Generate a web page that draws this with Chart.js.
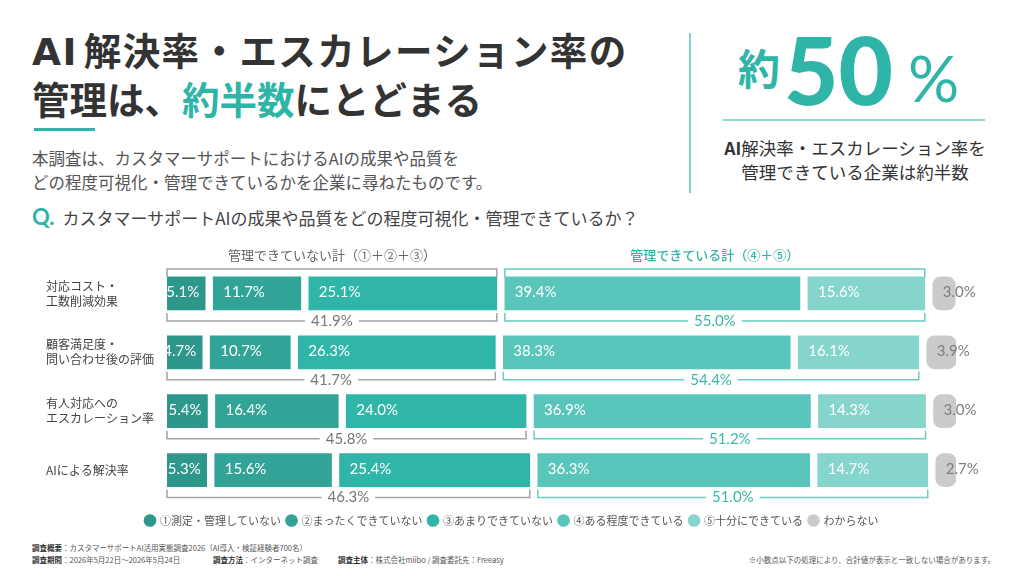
<!DOCTYPE html>
<html lang="ja">
<head>
<meta charset="utf-8">
<script src="https://cdn.jsdelivr.net/npm/chart.js@4.4.1/dist/chart.umd.min.js"></script>
<style>
  body { margin:0; width:1024px; height:576px; position:relative; overflow:hidden; background:#fff;
         font-family:"Noto Sans CJK JP","Noto Sans",sans-serif; color:#333; }
  .abs { position:absolute; white-space:nowrap; }
  #title { left:32px; top:26px; font-size:37.5px; line-height:45px; font-weight:700; color:#333; }
  #title em { font-style:normal; color:#2fb5a8; }
  #title .ai { font-family:"DejaVu Sans",sans-serif; margin-right:6px; }
  #title .l1 { letter-spacing:1.4px; }
  #rule { left:34px; top:128px; width:61px; height:3px; background:#2fb5a8; }
  #lead { left:32px; top:146px; font-size:16.5px; line-height:24px; color:#555; }
  #vline { left:689px; top:33px; width:2px; height:160px; background:#7fd3ca; }
  #yaku { left:738px; top:42px; font-size:42px; line-height:50px; font-weight:700; color:#2fb5a8; }
  #big { left:784px; top:14px; font-family:Lato,"Noto Sans",sans-serif; font-size:94px; line-height:110px; font-weight:900; color:#2fb5a8; }
  #pct { left:908px; top:40px; font-family:Lato,"Noto Sans",sans-serif; font-size:64px; line-height:76px; font-weight:400; color:#2fb5a8; }
  #hline { left:723px; top:119px; width:262px; height:2px; background:#8fd8cf; }
  #callout { left:700px; width:310px; top:136px; font-size:17.5px; line-height:24px; font-weight:400; text-align:center; color:#333; }
  #callout b { font-weight:700; }
  #q { left:32px; top:204px; font-size:17px; line-height:26px; color:#444; }
  #q b { color:#2fb5a8; font-family:Lato,"Noto Sans",sans-serif; font-size:22px; margin-right:8px; }
  #chartBox { position:absolute; left:4px; top:236px; width:1016px; height:300px; }
  .foot { font-size:7.5px; line-height:12px; color:#555; }
  .foot b { color:#333; }
</style>
</head>
<body>
<div id="title" class="abs"><span class="l1"><span class="ai">AI</span>解決率・エスカレーション率の</span><br>管理は、<em>約半数</em>にとどまる</div>
<div id="rule" class="abs"></div>
<div id="lead" class="abs">本調査は、カスタマーサポートにおけるAIの成果や品質を<br>どの程度可視化・管理できているかを企業に尋ねたものです。</div>
<div id="vline" class="abs"></div>
<div id="yaku" class="abs">約</div>
<div id="big" class="abs">50</div>
<div id="pct" class="abs">%</div>
<div id="hline" class="abs"></div>
<div id="callout" class="abs"><b>AI</b>解決率・エスカレーション率を<br>管理できている企業は約半数</div>
<div id="q" class="abs"><b>Q.</b>カスタマーサポートAIの成果や品質をどの程度可視化・管理できているか？</div>
<div id="chartBox"><canvas id="surveyChart"></canvas></div>
<div class="abs foot" style="left:32px;top:542px;"><b>調査概要</b>：カスタマーサポートAI活用実態調査2026（AI導入・検証経験者700名）</div>
<div class="abs foot" style="left:32px;top:554px;"><b>調査期間</b>：2026年5月22日〜2026年5月24日</div>
<div class="abs foot" style="left:213px;top:554px;"><b>調査方法</b>：インターネット調査</div>
<div class="abs foot" style="left:338px;top:554px;"><b>調査主体</b>：株式会社miibo / 調査委託先：Freeasy</div>
<div class="abs foot" style="right:29px;top:554px;">※小数点以下の処理により、合計値が表示と一致しない場合があります。</div>

<script>
// ---- data ----
var categories = [["対応コスト・", "工数削減効果"], ["顧客満足度・", "問い合わせ後の評価"], ["有人対応への", "エスカレーション率"], ["AIによる解決率"]];
var seriesNames = ["①測定・管理していない", "②まったくできていない", "③あまりできていない", "④ある程度できている", "⑤十分にできている", "わからない"];
var notMeasured = [5.1, 4.7, 5.4, 5.3];
var notAtAll = [11.7, 10.7, 16.4, 15.6];
var notMuch = [25.1, 26.3, 24.0, 25.4];
var somewhat = [39.4, 38.3, 36.9, 36.3];
var fully = [15.6, 16.1, 14.3, 14.7];
var unknown = [3.0, 3.9, 3.0, 2.7];
var notManagedTotal = [41.9, 41.7, 45.8, 46.3];
var managedTotal = [55.0, 54.4, 51.2, 51.0];
var groupTitles = ["管理できていない計（①＋②＋③）", "管理できている計（④＋⑤）"];

// ---- styles ----
var segColors = ["#2d978c", "#31a497", "#2fb6a9", "#5ac6bb", "#86d5cd", "#cbcbcb"];
var GAP_PCT = 1.07;   // white space between segments, in axis units
var numFont = '15px Lato, "Noto Sans CJK JP", sans-serif';
var jpFont = '"Noto Sans CJK JP", "Noto Sans", sans-serif';

var seriesValues = [notMeasured, notAtAll, notMuch, somewhat, fully, unknown];

// push every dataset right by its index * gap
const segmentGap = {
    id: 'segmentGap',
    afterDatasetsUpdate(chart) {
        const xs = chart.scales.x;
        const gap = xs.getPixelForValue(GAP_PCT) - xs.getPixelForValue(0);
        chart.data.datasets.forEach(function (ds, k) {
            chart.getDatasetMeta(k).data.forEach(function (bar) {
                bar.x += k * gap;
                bar.base += k * gap;
            });
        });
    },
    afterLayout(chart) {
        // center the legend on the page
        const lg = chart.legend;
        const w = lg.right - lg.left;
        lg.left = (chart.width - w) / 2;
        lg.right = lg.left + w;
    }
};

function bracket(ctx, x0, x1, yEdge, yLine, color, text, textColor) {
    ctx.save();
    ctx.strokeStyle = color;
    ctx.lineWidth = 1.5;
    ctx.font = numFont;
    const mid = (x0 + x1) / 2;
    const half = text ? ctx.measureText(text).width / 2 + 6 : 0;
    ctx.beginPath();
    ctx.moveTo(x0, yEdge); ctx.lineTo(x0, yLine); ctx.lineTo(mid - half, yLine);
    ctx.moveTo(mid + half, yLine); ctx.lineTo(x1, yLine); ctx.lineTo(x1, yEdge);
    ctx.stroke();
    if (text) {
        ctx.fillStyle = textColor;
        ctx.textAlign = 'center';
        ctx.textBaseline = 'middle';
        ctx.fillText(text, mid, yLine);
    }
    ctx.restore();
}

const barDecor = {
    id: 'barDecor',
    afterDatasetsDraw(chart) {
        const ctx = chart.ctx;
        // value labels
        ctx.save();
        ctx.font = numFont;
        ctx.textBaseline = 'middle';
        chart.data.datasets.forEach(function (ds, k) {
            chart.getDatasetMeta(k).data.forEach(function (bar, i) {
                const txt = ds.data[i].toFixed(1) + '%';
                ctx.fillStyle = k === 5 ? '#7d7d7d' : '#ffffff';
                if (k === 0) {
                    ctx.textAlign = 'right';
                    ctx.fillText(txt, bar.x - 6, bar.y - 1);
                } else {
                    ctx.textAlign = 'left';
                    ctx.fillText(txt, bar.base + 10, bar.y - 1);
                }
            });
        });
        ctx.restore();

        // group brackets
        const m0 = chart.getDatasetMeta(0).data, m2 = chart.getDatasetMeta(2).data;
        const m3 = chart.getDatasetMeta(3).data, m4 = chart.getDatasetMeta(4).data;
        for (let i = 0; i < categories.length; i++) {
            const yb = m0[i].y + m0[i].height / 2;
            bracket(ctx, m0[i].base, m2[i].x, yb + 3, yb + 11, '#a3a3a3', notManagedTotal[i].toFixed(1) + '%', '#777777');
            bracket(ctx, m3[i].base, m4[i].x, yb + 3, yb + 11, '#68cdc2', managedTotal[i].toFixed(1) + '%', '#3ab7aa');
        }
        // top brackets + group titles on the first row
        const yt = m0[0].y - m0[0].height / 2;
        bracket(ctx, m0[0].base, m2[0].x, yt, yt - 8, '#a3a3a3', '', '');
        bracket(ctx, m3[0].base, m4[0].x, yt, yt - 8, '#68cdc2', '', '');
        ctx.save();
        ctx.textAlign = 'center';
        ctx.textBaseline = 'middle';
        ctx.font = '13px ' + jpFont;
        ctx.fillStyle = '#666666';
        ctx.fillText(groupTitles[0], (m0[0].base + m2[0].x) / 2, yt - 22);
        ctx.font = '500 13px ' + jpFont;
        ctx.fillStyle = '#35b3a6';
        ctx.fillText(groupTitles[1], (m3[0].base + m4[0].x) / 2, yt - 22);
        ctx.restore();
    }
};

var datasets = seriesValues.map(function (vals, k) {
    return {
        label: seriesNames[k],
        data: vals,
        backgroundColor: segColors[k],
        borderWidth: 0,
        borderRadius: 8,
        borderSkipped: false,
        barThickness: 33
    };
});

var ctx = document.getElementById('surveyChart').getContext('2d');
var SurveyChart = new Chart(ctx, {
    type: 'bar',
    data: { labels: categories, datasets: datasets },
    options: {
        indexAxis: 'y',
        responsive: true,
        maintainAspectRatio: false,
        animation: false,
        layout: { padding: { left: 42, right: 64, top: 28, bottom: 0 } },
        scales: {
            x: {
                stacked: true, min: 0, max: 100 + 5 * GAP_PCT,
                grid: { display: false }, border: { display: false },
                ticks: { display: false },
                afterFit: function (s) { s.height = 9.5; }
            },
            y: {
                stacked: true,
                grid: { display: false }, border: { display: false },
                ticks: { crossAlign: 'far', color: '#444', font: { size: 12, family: jpFont, lineHeight: 1.25 } },
                afterFit: function (s) { s.width = 121; }
            }
        },
        plugins: {
            legend: {
                position: 'bottom',
                labels: {
                    usePointStyle: true, pointStyle: 'circle', boxWidth: 9, boxHeight: 9,
                    padding: 6, color: '#555', font: { size: 11, family: jpFont }
                }
            },
            tooltip: { enabled: false }
        }
    },
    plugins: [segmentGap, barDecor]
});
</script>
</body>
</html>
